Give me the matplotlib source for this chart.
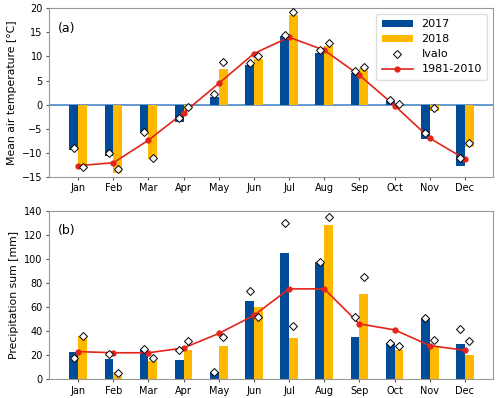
import matplotlib
matplotlib.use("Agg")
import matplotlib.pyplot as plt
import numpy as np

months = ["Jan", "Feb", "Mar", "Apr", "May", "Jun", "Jul", "Aug", "Sep", "Oct", "Nov", "Dec"]

temp_2017 = [-9.5, -10.7, -5.9, -3.6, 1.6, 8.2, 14.2, 10.8, 6.6, 0.7, -7.2, -12.8]
temp_2018 = [-12.8, -14.2, -11.4, -1.1, 7.4, 9.5, 18.6, 12.2, 7.5, -0.1, -1.3, -8.8]
temp_ivalo_2017 = [-9.1, -10.1, -5.8, -2.7, 2.2, 8.7, 14.5, 11.3, 7.0, 0.9, -6.0, -11.1]
temp_ivalo_2018 = [-13.0, -13.3, -11.1, -0.5, 8.8, 10.0, 19.3, 12.9, 7.9, 0.1, -0.7, -7.9]
temp_normal = [-12.7, -12.1, -7.4, -1.7, 4.4, 10.6, 14.0, 11.3, 6.1, -0.2, -7.0, -11.3]

prec_2017 = [23, 17, 25, 16, 6, 65, 105, 97, 35, 30, 51, 29]
prec_2018 = [36, 6, 15, 24, 28, 60, 34, 128, 71, 24, 27, 20]
prec_ivalo_2017 = [18, 21, 25, 24, 6, 73, 130, 97, 52, 30, 51, 42]
prec_ivalo_2018 = [36, 5, 18, 32, 35, 52, 44, 135, 85, 28, 33, 32]
prec_normal = [23, 22, 22, 26, 38, 53, 75, 75, 46, 41, 28, 24]

BLUE = "#004c99"
YELLOW = "#ffb800"
RED = "#e3241b"
ZERO = "#3b7dc4"
W = 0.25

fig = plt.figure(figsize=(5.0, 3.98), dpi=100)
ax1 = fig.add_axes([0.098, 0.556, 0.888, 0.423])
ax2 = fig.add_axes([0.098, 0.047, 0.888, 0.424])

x = np.arange(len(months))

def draw(ax, v17, v18, i17, i18, norm, legend=False):
    b1 = ax.bar(x - W / 2, v17, W, color=BLUE, label="2017", zorder=2)
    b2 = ax.bar(x + W / 2, v18, W, color=YELLOW, label="2018", zorder=2)
    d1, = ax.plot(x - W / 2, i17, linestyle="none", marker="D", ms=3.6, mfc="white",
                  mec="black", mew=0.7, label="Ivalo", zorder=4)
    ax.plot(x + W / 2, i18, linestyle="none", marker="D", ms=3.6, mfc="white",
            mec="black", mew=0.7, zorder=4)
    ln, = ax.plot(x, norm, color=RED, marker="o", ms=3.5, lw=1.2, label="1981-2010", zorder=3)
    ax.set_xticks(x)
    ax.set_xticklabels(months)
    ax.set_xlim(-0.83, 11.8)
    ax.tick_params(labelsize=7, length=2.5, color="#555555", pad=2)
    for s in ax.spines.values():
        s.set_color("#999999")
        s.set_linewidth(0.8)
    if legend:
        ax.legend([b1, b2, d1, ln], ["2017", "2018", "Ivalo", "1981-2010"],
                  loc="upper right", fontsize=8, framealpha=1, edgecolor="#dddddd",
                  borderpad=0.5, handlelength=2.8, labelspacing=0.45)

draw(ax1, temp_2017, temp_2018, temp_ivalo_2017, temp_ivalo_2018, temp_normal, legend=True)
ax1.axhline(0, color=ZERO, lw=1.1, zorder=1)
ax1.set_ylim(-15, 20)
ax1.set_yticks(range(-15, 21, 5))
ax1.set_ylabel("Mean air temperature [°C]", fontsize=7.8)
ax1.text(0.02, 0.92, "(a)", transform=ax1.transAxes, fontsize=9, va="top")

draw(ax2, prec_2017, prec_2018, prec_ivalo_2017, prec_ivalo_2018, prec_normal)
ax2.set_ylim(0, 140)
ax2.set_yticks(range(0, 141, 20))
ax2.set_ylabel("Precipitation sum [mm]", fontsize=7.8)
ax2.text(0.02, 0.92, "(b)", transform=ax2.transAxes, fontsize=9, va="top")

fig.savefig("out.png", dpi=100)
